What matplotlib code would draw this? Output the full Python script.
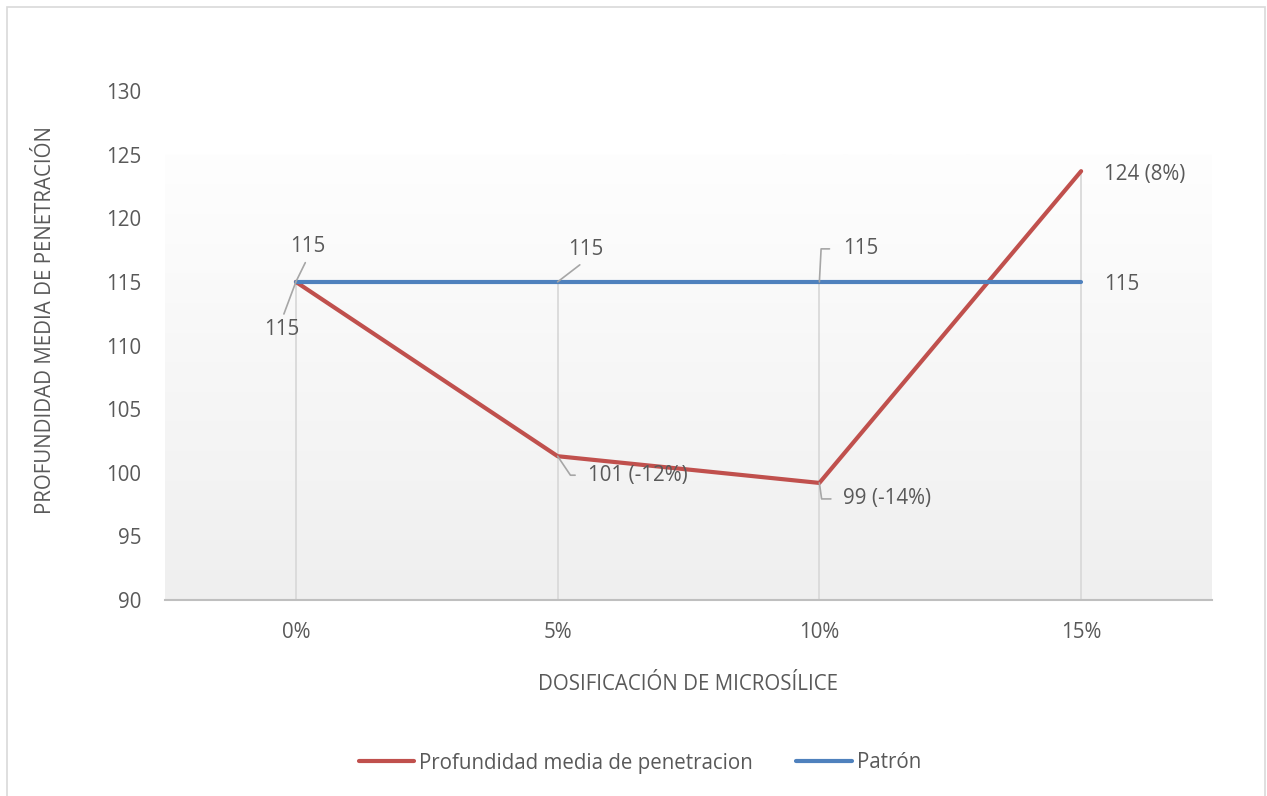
import matplotlib
matplotlib.use("Agg")
import matplotlib.pyplot as plt
import numpy as np
from matplotlib.colors import LinearSegmentedColormap
from matplotlib.patches import Rectangle

plt.rcParams['font.family'] = ['Open Sans', 'DejaVu Sans']

# datos
categorias = ['0%', '5%', '10%', '15%']
profundidad = [115, 101.3, 99.2, 123.7]
patron = [115, 115, 115, 115]

ROJO = '#C0504D'
AZUL = '#4F81BD'
TEXTO = '#595959'
GUIA = '#a6a6a6'
FS = 14.8

fig = plt.figure(figsize=(12.67, 7.96), dpi=100)
fig.patch.set_facecolor('white')
fig.patches.append(Rectangle((7 / 1267, -0.02), 1258 / 1267, 1 - 7 / 796 + 0.02,
                             transform=fig.transFigure, fill=False,
                             edgecolor='#d9d9d9', lw=1.2))

ax = fig.add_axes([165 / 1267, 1 - 600 / 796, 1047 / 1267, 509 / 796])
x = np.arange(len(categorias))

# fondo degradado del area de trazado
grad = np.linspace(0, 1, 256).reshape(-1, 1)
cmap = LinearSegmentedColormap.from_list('fondo', ['#fefefe', '#efefef'])
ax.imshow(grad, extent=(-0.5, 3.5, 90, 125), aspect='auto', cmap=cmap,
          origin='upper', zorder=0)

ax.set_xlim(-0.5, 3.5)
ax.set_ylim(90, 130)
ax.set_yticks(np.arange(90, 131, 5))
ax.set_xticks(x)
ax.set_xticklabels(categorias)

# lineas de unión desde el punto más alto hasta el eje
tope = [max(p, b) for p, b in zip(profundidad, patron)]
ax.vlines(x, 90, tope, color='#d9d9d9', lw=1.3, zorder=1)

for s in ['top', 'right', 'left']:
    ax.spines[s].set_visible(False)
ax.spines['bottom'].set_color('#bfbfbf')
ax.spines['bottom'].set_linewidth(1.5)
ax.tick_params(axis='both', length=0, labelsize=FS, labelcolor=TEXTO)
ax.tick_params(axis='y', pad=17)
ax.tick_params(axis='x', pad=16)

ax.plot(x, profundidad, color=ROJO, lw=3, solid_capstyle='round',
        label='Profundidad media de penetracion', zorder=3)
ax.plot(x, patron, color=AZUL, lw=3, solid_capstyle='round',
        label='Patrón', zorder=4)


def etiqueta(texto, xy, off, ha='center', conn=None, rel=(0.5, 0.5), gap=2):
    props = None
    if conn is not None:
        props = dict(arrowstyle='-', color=GUIA, lw=1.2, shrinkA=gap, shrinkB=0,
                     relpos=rel, connectionstyle=conn)
    ax.annotate(texto, xy=xy, xytext=(off[0], off[1] - 3), textcoords='offset pixels',
                ha=ha, va='center', fontsize=FS, color=TEXTO,
                arrowprops=props, zorder=5)


# etiquetas del patron
etiqueta(f'{patron[0]:.0f}', (x[0], patron[0]), (12, 38), conn='arc3', rel=(0.5, 0))
etiqueta(f'{patron[1]:.0f}', (x[1], patron[1]), (28, 35), conn='arc3', rel=(0.5, 0))
etiqueta(f'{patron[2]:.0f}', (x[2], patron[2]), (24, 36), ha='left',
         conn='angle,angleA=180,angleB=87,rad=0', rel=(0, 0.5), gap=8)
etiqueta(f'{patron[3]:.0f}', (x[3], patron[3]), (23, 0), ha='left')

# etiquetas de la profundidad con la variacion respecto al patron
var = [(p - b) / b * 100 for p, b in zip(profundidad, patron)]
etiqueta(f'{profundidad[0]:.0f}', (x[0], profundidad[0]), (-14, -45),
         conn='arc3', rel=(0.5, 1))
etiqueta(f'{profundidad[1]:.0f} ({var[1]:.0f}%)', (x[1], profundidad[1]), (30, -16),
         ha='left', conn='angle,angleA=180,angleB=-56,rad=0', rel=(0, 0.5), gap=7)
etiqueta(f'{profundidad[2]:.0f} ({var[2]:.0f}%)', (x[2], profundidad[2]), (24, -13),
         ha='left', conn='angle,angleA=180,angleB=-82,rad=0', rel=(0, 0.5), gap=7)
etiqueta(f'{profundidad[3]:.0f} ({var[3]:.0f}%)', (x[3], profundidad[3]), (23, 0),
         ha='left')

fig.text(688 / 1267, 1 - 685 / 796, 'DOSIFICACIÓN DE MICROSÍLICE', ha='center',
         va='center', fontsize=FS, color=TEXTO)
fig.text(46 / 1267, 1 - 320 / 796, 'PROFUNDIDAD MEDIA DE PENETRACIÓN', ha='center',
         va='center', rotation=90, fontsize=FS, color=TEXTO)

fig.legend(loc='center', bbox_to_anchor=(640 / 1267, 1 - 763 / 796), ncol=2,
           frameon=False, fontsize=FS, labelcolor=TEXTO, handlelength=2.7,
           handletextpad=0.25, columnspacing=2.1)

fig.savefig('out.png', dpi=100)
